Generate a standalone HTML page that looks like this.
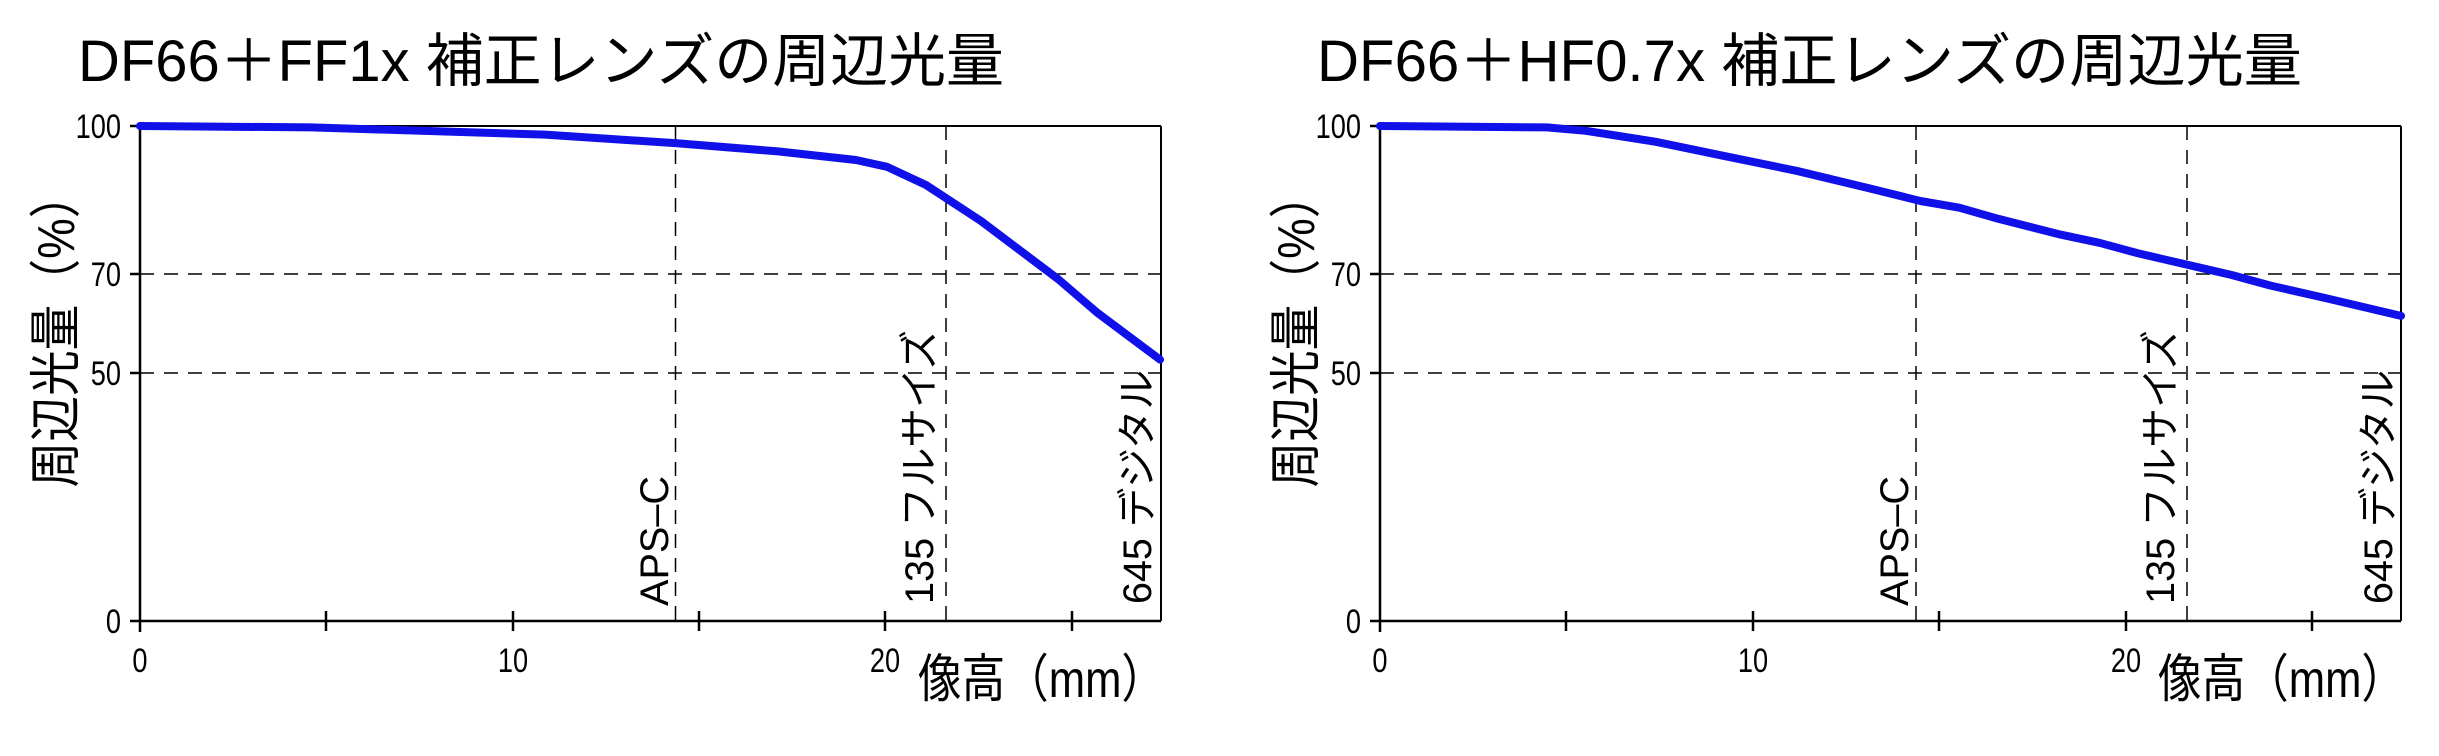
<!DOCTYPE html>
<html><head><meta charset="utf-8"><style>
html,body{margin:0;padding:0;background:#fff}
svg{display:block}
text{font-family:"Liberation Sans","Noto Sans CJK JP",sans-serif;fill:#000}
</style></head><body>
<svg width="2439" height="756" viewBox="0 0 2439 756" xmlns="http://www.w3.org/2000/svg">
<rect width="2439" height="756" fill="#fff"/>
<!-- LEFT -->
<g>
<text x="78" y="81" font-size="58" textLength="926" lengthAdjust="spacingAndGlyphs">DF66＋FF1x 補正レンズの周辺光量</text>
<g stroke="#000" stroke-width="1.5" stroke-dasharray="14,10" fill="none">
<line x1="140" y1="274" x2="1161" y2="274"/>
<line x1="140" y1="373" x2="1161" y2="373"/>
<line x1="675.5" y1="126" x2="675.5" y2="620"/>
<line x1="946" y1="126" x2="946" y2="620"/>
</g>
<g stroke="#000" stroke-width="2.5" fill="none">
<line x1="140" y1="126" x2="1161" y2="126" stroke-width="2"/>
<line x1="1161" y1="126" x2="1161" y2="621" stroke-width="2"/>
<line x1="140" y1="126" x2="140" y2="632"/>
<line x1="130" y1="621" x2="1161" y2="621"/>
<line x1="130" y1="126" x2="140" y2="126"/><line x1="130" y1="274" x2="140" y2="274"/><line x1="130" y1="373" x2="140" y2="373"/>
<line x1="326" y1="611" x2="326" y2="631"/><line x1="513" y1="611" x2="513" y2="631"/><line x1="699" y1="611" x2="699" y2="631"/><line x1="885" y1="611" x2="885" y2="631"/><line x1="1072" y1="611" x2="1072" y2="631"/>
</g>
<g font-size="34" text-anchor="end">
<text x="121" y="138" transform="translate(121,0) scale(0.8,1) translate(-121,0)">100</text>
<text x="121" y="286" transform="translate(121,0) scale(0.8,1) translate(-121,0)">70</text>
<text x="121" y="385" transform="translate(121,0) scale(0.8,1) translate(-121,0)">50</text>
<text x="121" y="633" transform="translate(121,0) scale(0.8,1) translate(-121,0)">0</text>
</g>
<g font-size="34" text-anchor="middle">
<text x="140" y="672" transform="translate(140,0) scale(0.8,1) translate(-140,0)">0</text>
<text x="513" y="672" transform="translate(513,0) scale(0.8,1) translate(-513,0)">10</text>
<text x="885" y="672" transform="translate(885,0) scale(0.8,1) translate(-885,0)">20</text>
</g>
<text x="918" y="697" font-size="52" textLength="247" lengthAdjust="spacingAndGlyphs">像高（mm）</text>
<text transform="translate(74,330) rotate(-90)" font-size="52" text-anchor="middle" textLength="315" lengthAdjust="spacingAndGlyphs">周辺光量（%）</text>
<text transform="translate(668,606) rotate(-90)" font-size="40" textLength="130" lengthAdjust="spacingAndGlyphs">APS–C</text>
<text transform="translate(933,604) rotate(-90)" font-size="40" textLength="274" lengthAdjust="spacingAndGlyphs">135 フルサイズ</text>
<text transform="translate(1151,604) rotate(-90)" font-size="40" textLength="234" lengthAdjust="spacingAndGlyphs">645 デジタル</text>
<polyline fill="none" stroke="#1010e8" stroke-width="8" stroke-linejoin="round" stroke-linecap="round"
points="140,126 311,127.4 545,134.6 677,143.3 778,151.4 856,160 887,166.8 926,185 981,221 1058,279 1097,312.5 1160,359.6"/>
</g>
<!-- RIGHT -->
<g>
<text x="1317" y="81" font-size="58" textLength="985" lengthAdjust="spacingAndGlyphs">DF66＋HF0.7x 補正レンズの周辺光量</text>
<g stroke="#000" stroke-width="1.5" stroke-dasharray="14,10" fill="none">
<line x1="1380" y1="274" x2="2401" y2="274"/>
<line x1="1380" y1="373" x2="2401" y2="373"/>
<line x1="1916" y1="126" x2="1916" y2="620"/>
<line x1="2187" y1="126" x2="2187" y2="620"/>
</g>
<g stroke="#000" stroke-width="2.5" fill="none">
<line x1="1380" y1="126" x2="2401" y2="126" stroke-width="2"/>
<line x1="2401" y1="126" x2="2401" y2="621" stroke-width="2"/>
<line x1="1380" y1="126" x2="1380" y2="632"/>
<line x1="1370" y1="621" x2="2401" y2="621"/>
<line x1="1370" y1="126" x2="1380" y2="126"/><line x1="1370" y1="274" x2="1380" y2="274"/><line x1="1370" y1="373" x2="1380" y2="373"/>
<line x1="1566" y1="611" x2="1566" y2="631"/><line x1="1753" y1="611" x2="1753" y2="631"/><line x1="1939" y1="611" x2="1939" y2="631"/><line x1="2126" y1="611" x2="2126" y2="631"/><line x1="2312" y1="611" x2="2312" y2="631"/>
</g>
<g font-size="34" text-anchor="end">
<text x="1361" y="138" transform="translate(1361,0) scale(0.8,1) translate(-1361,0)">100</text>
<text x="1361" y="286" transform="translate(1361,0) scale(0.8,1) translate(-1361,0)">70</text>
<text x="1361" y="385" transform="translate(1361,0) scale(0.8,1) translate(-1361,0)">50</text>
<text x="1361" y="633" transform="translate(1361,0) scale(0.8,1) translate(-1361,0)">0</text>
</g>
<g font-size="34" text-anchor="middle">
<text x="1380" y="672" transform="translate(1380,0) scale(0.8,1) translate(-1380,0)">0</text>
<text x="1753" y="672" transform="translate(1753,0) scale(0.8,1) translate(-1753,0)">10</text>
<text x="2126" y="672" transform="translate(2126,0) scale(0.8,1) translate(-2126,0)">20</text>
</g>
<text x="2158" y="697" font-size="52" textLength="247" lengthAdjust="spacingAndGlyphs">像高（mm）</text>
<text transform="translate(1314,330) rotate(-90)" font-size="52" text-anchor="middle" textLength="315" lengthAdjust="spacingAndGlyphs">周辺光量（%）</text>
<text transform="translate(1908,606) rotate(-90)" font-size="40" textLength="130" lengthAdjust="spacingAndGlyphs">APS–C</text>
<text transform="translate(2174,604) rotate(-90)" font-size="40" textLength="274" lengthAdjust="spacingAndGlyphs">135 フルサイズ</text>
<text transform="translate(2392,604) rotate(-90)" font-size="40" textLength="234" lengthAdjust="spacingAndGlyphs">645 デジタル</text>
<polyline fill="none" stroke="#1010e8" stroke-width="8" stroke-linejoin="round" stroke-linecap="round"
points="1380,126 1546.8,127.4 1585.8,130.8 1655.8,141.8 1725.8,156.3 1795.9,170.7 1865.9,187.5 1920.4,201 1959.3,207.7 1998.2,218.8 2060.5,234.6 2099.4,242.8 2138.3,253.4 2200.6,267.8 2231.7,275 2270.6,285.6 2325.1,298 2401,315.9"/>
</g>
</svg>
</body></html>
